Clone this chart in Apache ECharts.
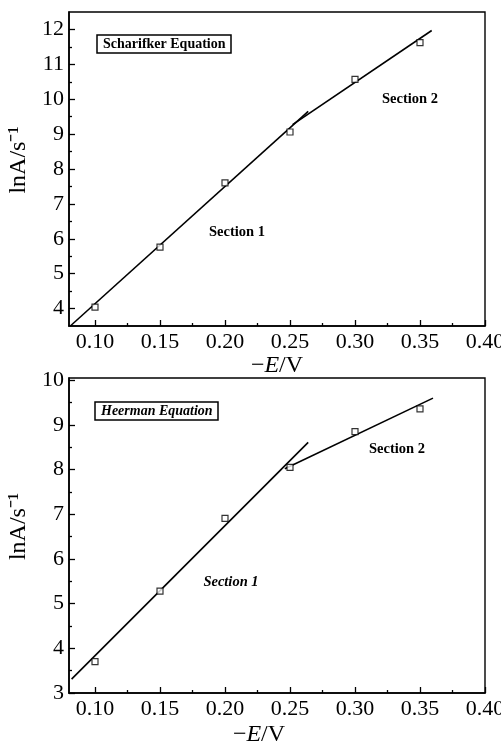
<!DOCTYPE html>
<html><head><meta charset="utf-8">
<script src="https://cdn.jsdelivr.net/npm/echarts@6/dist/echarts.min.js"></script>
<style>html,body{margin:0;padding:0;background:#fff}#c{width:501px;height:741px}</style>
</head><body><div id="c"></div>
<script>
// ---- data ----
const potentials = [0.10, 0.15, 0.20, 0.25, 0.30, 0.35];
const scharifkerLnA = [4.04, 5.76, 7.60, 9.06, 10.57, 11.62];
const heermanLnA = [3.70, 5.28, 6.91, 8.05, 8.85, 9.36];
const scharifkerSection1 = [[0.081, 3.50], [0.264, 9.65]];
const scharifkerSection2 = [[0.252, 9.27], [0.359, 11.97]];
const heermanSection1 = [[0.082, 3.31], [0.264, 8.61]];
const heermanSection2 = [[0.246, 8.02], [0.360, 9.60]];
// ---- ticks ----
const xTickValues = [0.10, 0.15, 0.20, 0.25, 0.30, 0.35, 0.40];
const xMinorValues = [0.125, 0.175, 0.225, 0.275, 0.325, 0.375];
const yTopTickValues = [4, 5, 6, 7, 8, 9, 10, 11, 12];
const yTopMinorValues = [4.5, 5.5, 6.5, 7.5, 8.5, 9.5, 10.5, 11.5];
const yBottomTickValues = [3, 4, 5, 6, 7, 8, 9, 10];
const yBottomMinorValues = [3.5, 4.5, 5.5, 6.5, 7.5, 8.5, 9.5];
const titles = ['Scharifker Equation', 'Heerman Equation'];
const sectionLabels = ['Section 1', 'Section 2'];
const xName = ['−', 'E', '/V'];
const yName = 'lnA/s⁻¹';

const FONT = '"Liberation Serif", "Times New Roman", serif';
const chart = echarts.init(document.getElementById('c'), null, {renderer: 'canvas'});

const xMin = 0.08, xMax = 0.40;
const yRanges = [[3.5, 12.5], [3, 10.05]];
const yTicks = [yTopTickValues, yBottomTickValues];
const yMinor = [yTopMinorValues, yBottomMinorValues];

function mkX(gi, minor) {
  return {
    type: 'value', gridIndex: gi, min: xMin, max: xMax, position: 'bottom',
    splitLine: {show: false},
    axisLine: {show: !minor, onZero: false, lineStyle: {color: '#000', width: 1.6}},
    axisTick: {show: true, inside: true, length: minor ? 3 : 6, customValues: minor ? xMinorValues : xTickValues,
               lineStyle: {color: '#000', width: 1.3}},
    axisLabel: minor ? {show: false} : {show: true, customValues: xTickValues, margin: 5,
               formatter: v => v.toFixed(2), color: '#000', fontFamily: FONT, fontSize: 22},
    name: minor ? '' : '{n|' + xName[0] + '}{i|' + xName[1] + '}{n|' + xName[2] + '}',
    nameLocation: 'middle', nameGap: gi === 0 ? 27 : 30,
    nameTextStyle: {
      padding: gi === 0 ? [0, 0, 0, 0] : [0, 36, 0, 0],
      rich: {
        n: {fontFamily: FONT, fontSize: 24, color: '#000'},
        i: {fontFamily: FONT, fontSize: 24, fontStyle: 'italic', color: '#000'}
      }
    }
  };
}
function mkY(gi, minor) {
  return {
    type: 'value', gridIndex: gi, min: yRanges[gi][0], max: yRanges[gi][1], position: 'left',
    splitLine: {show: false},
    axisLine: {show: !minor, onZero: false, lineStyle: {color: '#000', width: 1.6}},
    axisTick: {show: true, inside: true, length: minor ? 3 : 6, customValues: minor ? yMinor[gi] : yTicks[gi],
               lineStyle: {color: '#000', width: 1.3}},
    axisLabel: minor ? {show: false} : {show: true, customValues: yTicks[gi], margin: 5,
               color: '#000', fontFamily: FONT, fontSize: 22},
    name: minor ? '' : yName, nameLocation: 'middle', nameRotate: 90, nameGap: 34,
    nameTextStyle: {fontFamily: FONT, fontSize: 24, color: '#000', padding: [0, 0, 0, 18]}
  };
}

function pts(ys) { return potentials.map((x, i) => [x, ys[i]]); }
function scatter(gi, ys) {
  return {type: 'scatter', xAxisIndex: gi * 2, yAxisIndex: gi * 2, data: pts(ys),
          symbol: 'rect', symbolSize: 6, z: 5,
          itemStyle: {color: '#fff', borderColor: '#000', borderWidth: 1.2}};
}
function fit(gi, d) {
  return {type: 'line', xAxisIndex: gi * 2, yAxisIndex: gi * 2, data: d, showSymbol: false,
          symbol: 'none', z: 4, lineStyle: {color: '#000', width: 1.6}, animation: false};
}

chart.setOption({
  animation: false,
  backgroundColor: '#fff',
  grid: [
    {left: 69, top: 12, width: 416, height: 314, show: true, borderColor: '#000', borderWidth: 1.4,
     containLabel: false, outerBoundsMode: 'none'},
    {left: 69, top: 378, width: 416, height: 315, show: true, borderColor: '#000', borderWidth: 1.4,
     containLabel: false, outerBoundsMode: 'none'}
  ],
  xAxis: [mkX(0, false), mkX(0, true), mkX(1, false), mkX(1, true)],
  yAxis: [mkY(0, false), mkY(0, true), mkY(1, false), mkY(1, true)],
  title: [
    {text: titles[0], left: 97, top: 35, padding: [2, 6, 2, 6], borderColor: '#000', borderWidth: 1.5,
     textStyle: {fontFamily: FONT, fontSize: 14, fontWeight: 'bold', color: '#000'}},
    {text: titles[1], left: 95, top: 402, padding: [2, 6, 2, 6], borderColor: '#000', borderWidth: 1.5,
     textStyle: {fontFamily: FONT, fontSize: 14, fontWeight: 'bold', fontStyle: 'italic', color: '#000'}}
  ],
  graphic: [
    {type: 'text', x: 410, y: 99, style: {text: sectionLabels[1], fontFamily: FONT, fontSize: 14.5, fontWeight: 'bold', fill: '#000', align: 'center', verticalAlign: 'middle'}},
    {type: 'text', x: 237, y: 232, style: {text: sectionLabels[0], fontFamily: FONT, fontSize: 14.5, fontWeight: 'bold', fill: '#000', align: 'center', verticalAlign: 'middle'}},
    {type: 'text', x: 397, y: 449, style: {text: sectionLabels[1], fontFamily: FONT, fontSize: 14.5, fontWeight: 'bold', fill: '#000', align: 'center', verticalAlign: 'middle'}},
    {type: 'text', x: 231, y: 582, style: {text: sectionLabels[0], fontFamily: FONT, fontSize: 14.5, fontWeight: 'bold', fontStyle: 'italic', fill: '#000', align: 'center', verticalAlign: 'middle'}}
  ],
  series: [
    fit(0, scharifkerSection1), fit(0, scharifkerSection2), scatter(0, scharifkerLnA),
    fit(1, heermanSection1), fit(1, heermanSection2), scatter(1, heermanLnA)
  ]
});
</script></body></html>
